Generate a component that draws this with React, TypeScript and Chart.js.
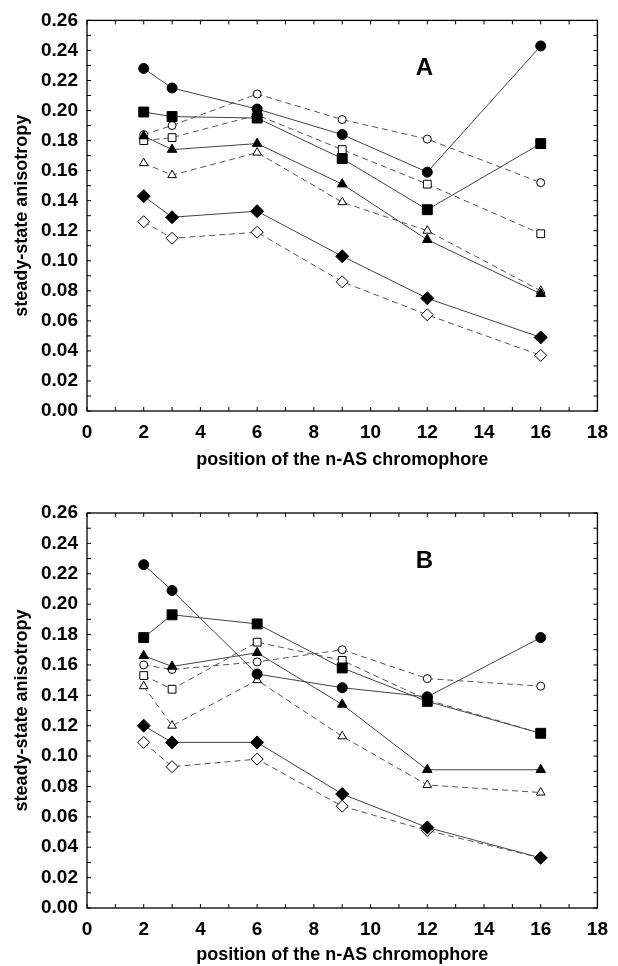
import React, { useEffect, useRef } from 'react';
import { Chart, registerables } from 'chart.js';

Chart.register(...registerables);

// x positions of the n-AS chromophore
const positions = [2, 3, 6, 9, 12, 16];

// Panel A
const aFilledCircle = [0.228, 0.215, 0.201, 0.184, 0.159, 0.243];
const aFilledSquare = [0.199, 0.196, 0.195, 0.168, 0.134, 0.178];
const aFilledTriangle = [0.183, 0.174, 0.178, 0.151, 0.114, 0.078];
const aFilledDiamond = [0.143, 0.129, 0.133, 0.103, 0.075, 0.049];
const aOpenCircle = [0.184, 0.190, 0.211, 0.194, 0.181, 0.152];
const aOpenSquare = [0.180, 0.182, 0.197, 0.174, 0.151, 0.118];
const aOpenTriangle = [0.165, 0.157, 0.172, 0.139, 0.120, 0.080];
const aOpenDiamond = [0.126, 0.115, 0.119, 0.086, 0.064, 0.037];

// Panel B
const bFilledCircle = [0.226, 0.209, 0.154, 0.145, 0.139, 0.178];
const bFilledSquare = [0.178, 0.193, 0.187, 0.158, 0.136, 0.115];
const bFilledTriangle = [0.166, 0.159, 0.168, 0.134, 0.091, 0.091];
const bFilledDiamond = [0.120, 0.109, 0.109, 0.075, 0.053, 0.033];
const bOpenCircle = [0.160, 0.157, 0.162, 0.170, 0.151, 0.146];
const bOpenSquare = [0.153, 0.144, 0.175, 0.163, 0.137, 0.115];
const bOpenTriangle = [0.146, 0.120, 0.150, 0.113, 0.081, 0.076];
const bOpenDiamond = [0.109, 0.093, 0.098, 0.067, 0.051, 0.033];

const xTitle = 'position of the n-AS chromophore';
const yTitle = 'steady-state anisotropy';

const FONT = "'Liberation Sans', Arial, Helvetica, sans-serif";

type SeriesDef = { values: number[]; style: string; filled: boolean; radius: number };

function makeDatasets(list: SeriesDef[]) {
  return list.map((s) => ({
    data: positions.map((x, i) => ({ x, y: s.values[i] })),
    pointStyle: s.style as any,
    pointRadius: s.radius,
    pointHoverRadius: s.radius,
    pointBackgroundColor: s.filled ? '#000' : '#fff',
    pointBorderColor: '#000',
    pointBorderWidth: 1,
    borderColor: s.filled ? '#444' : '#555',
    borderWidth: 1,
    borderDash: s.filled ? [] : [6, 4],
    fill: false,
    tension: 0,
  }));
}

const frameTicksPlugin = {
  id: 'frameTicks',
  afterDatasetsDraw(chart: any) {
    const { ctx, chartArea, scales } = chart;
    const { left, right, top, bottom } = chartArea;
    const xs = scales.x;
    const ys = scales.y;
    ctx.save();
    ctx.strokeStyle = '#000';
    ctx.lineWidth = 1.3;
    ctx.strokeRect(left, top, right - left, bottom - top);
    ctx.lineWidth = 1;
    const len = 4;
    ctx.beginPath();
    for (let v = 0; v <= 18; v += 1) {
      const px = xs.getPixelForValue(v);
      ctx.moveTo(px, bottom);
      ctx.lineTo(px, bottom - len);
      ctx.moveTo(px, top);
      ctx.lineTo(px, top + len);
    }
    for (let k = 0; k <= 26; k += 1) {
      const py = ys.getPixelForValue(k / 100);
      ctx.moveTo(left, py);
      ctx.lineTo(left + len, py);
      ctx.moveTo(right, py);
      ctx.lineTo(right - len, py);
    }
    ctx.stroke();
    const lab = chart.options.plugins.panelLabel;
    if (lab) {
      ctx.fillStyle = '#000';
      ctx.font = `bold 24px ${FONT}`;
      ctx.textAlign = 'center';
      ctx.textBaseline = 'middle';
      ctx.fillText(lab.text, xs.getPixelForValue(lab.x), ys.getPixelForValue(lab.y));
    }
    ctx.restore();
  },
};

type PanelProps = {
  series: SeriesDef[];
  label: string;
  padTop: number;
  xAxisHeight: number;
  xTitlePad: number;
  top: number;
};

function Panel({ series, label, padTop, xAxisHeight, xTitlePad, top }: PanelProps) {
  const ref = useRef<HTMLCanvasElement>(null);
  useEffect(() => {
    if (!ref.current) return;
    const chart = new Chart(ref.current, {
      type: 'line',
      data: { datasets: makeDatasets(series) as any },
      plugins: [frameTicksPlugin],
      options: {
        responsive: false,
        animation: false,
        layout: { padding: { top: padTop, right: 12, left: 0, bottom: 0 } },
        plugins: {
          legend: { display: false },
          tooltip: { enabled: false },
          panelLabel: { text: label, x: 11.9, y: 0.228 },
        } as any,
        scales: {
          x: {
            type: 'linear',
            min: 0,
            max: 18,
            grid: { display: false, drawTicks: false },
            border: { display: false },
            ticks: {
              stepSize: 2,
              padding: 10,
              color: '#000',
              font: { family: FONT, size: 19, weight: 'bold' },
              maxRotation: 0,
            },
            title: {
              display: true,
              text: xTitle,
              color: '#000',
              font: { family: FONT, size: 18, weight: 'bold' },
              padding: { top: 0, bottom: xTitlePad },
            },
            afterFit: (axis: any) => {
              axis.height = xAxisHeight;
            },
          },
          y: {
            type: 'linear',
            min: 0,
            max: 0.26,
            grid: { display: false, drawTicks: false },
            border: { display: false },
            ticks: {
              stepSize: 0.02,
              padding: 9,
              color: '#000',
              font: { family: FONT, size: 19, weight: 'bold' },
              callback: (v: any) => Number(v).toFixed(2),
            },
            title: {
              display: true,
              text: yTitle,
              color: '#000',
              font: { family: FONT, size: 18, weight: 'bold' },
              padding: { top: 11, bottom: 0 },
            },
            afterFit: (axis: any) => {
              axis.width = 87;
            },
          },
        },
      } as any,
    });
    return () => chart.destroy();
  }, []);
  return (
    <canvas
      ref={ref}
      width={618}
      height={483}
      style={{ position: 'absolute', left: 0, top, width: 618, height: 483 }}
    />
  );
}

const panelA: SeriesDef[] = [
  { values: aFilledCircle, style: 'circle', filled: true, radius: 5 },
  { values: aFilledSquare, style: 'rect', filled: true, radius: 7 },
  { values: aFilledTriangle, style: 'triangle', filled: true, radius: 5.5 },
  { values: aFilledDiamond, style: 'rectRot', filled: true, radius: 6.5 },
  { values: aOpenCircle, style: 'circle', filled: false, radius: 4 },
  { values: aOpenSquare, style: 'rect', filled: false, radius: 5.5 },
  { values: aOpenTriangle, style: 'triangle', filled: false, radius: 5 },
  { values: aOpenDiamond, style: 'rectRot', filled: false, radius: 6 },
];

const panelB: SeriesDef[] = [
  { values: bFilledCircle, style: 'circle', filled: true, radius: 5 },
  { values: bFilledSquare, style: 'rect', filled: true, radius: 7 },
  { values: bFilledTriangle, style: 'triangle', filled: true, radius: 5.5 },
  { values: bFilledDiamond, style: 'rectRot', filled: true, radius: 6.5 },
  { values: bOpenCircle, style: 'circle', filled: false, radius: 4 },
  { values: bOpenSquare, style: 'rect', filled: false, radius: 5.5 },
  { values: bOpenTriangle, style: 'triangle', filled: false, radius: 5 },
  { values: bOpenDiamond, style: 'rectRot', filled: false, radius: 6 },
];

export default function App() {
  return (
    <div style={{ position: 'absolute', left: 0, top: 0, width: 618, height: 966, background: '#fff' }}>
      <Panel series={panelA} label="A" padTop={19} xAxisHeight={72} xTitlePad={12} top={0} />
      <Panel series={panelB} label="B" padTop={30} xAxisHeight={58} xTitlePad={0} top={483} />
    </div>
  );
}
